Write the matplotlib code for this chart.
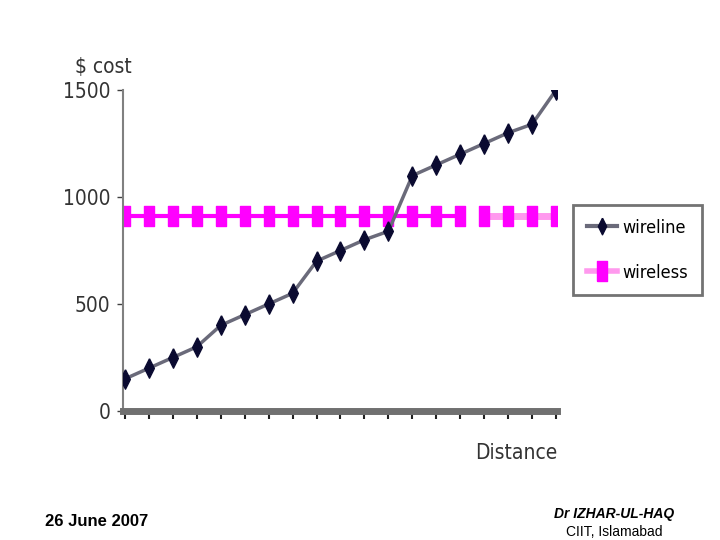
import matplotlib.pyplot as plt
from matplotlib import font_manager

# values
distance = list(range(1, 20))
wireline = [150, 200, 250, 300, 400, 450, 500, 550, 700, 750, 800, 840,
            1100, 1150, 1200, 1250, 1300, 1340, 1500]
wireless = [910] * 19
yticks = [0, 500, 1000, 1500]

plt.rcParams['font.family'] = ['Liberation Sans', 'DejaVu Sans']
# condensed face for the chart texts
cond = font_manager.FontProperties(family='DejaVu Sans', stretch='condensed', size=15)

fig = plt.figure(figsize=(7.2, 5.4), dpi=100)
ax = fig.add_axes([123 / 720, 1 - 411 / 540, 434 / 720, 321 / 540])

diamond = [(0, 1), (0.5, 0), (0, -1), (-0.5, 0), (0, 1)]
rect = [(-0.5, -1), (0.5, -1), (0.5, 1), (-0.5, 1), (-0.5, -1)]

# wireless: main run in magenta, tail drawn lighter as on the slide
split = 15
ax.plot(distance[:split], wireless[:split], color='#ff00ff', lw=3,
        marker=rect, ms=15, mec='#ff00ff', mfc='#ff00ff', zorder=2)
ax.plot(distance[split:], wireless[split:], color='#ff99ee', lw=5,
        marker=rect, ms=15, mec='#ff00ff', mfc='#ff00ff', zorder=2)

ax.plot(distance, wireline, color='#6a6a7a', lw=2.5, zorder=3)
ax.plot(distance, wireline, ls='none', marker=diamond, ms=14,
        mfc='#0a0a30', mec='#0a0a30', zorder=4)

ax.set_xlim(0.92, 19.04)
ax.set_ylim(0, 1500)
ax.set_xticks(distance)
ax.set_xticklabels([])
ax.set_yticks(yticks)
ax.set_yticklabels([str(v) for v in yticks], fontproperties=cond,
                   color='#333333')
ax.tick_params(axis='x', length=6, width=1.5, color='#202020', direction='out')
ax.tick_params(axis='y', length=4, width=1, color='#404040', pad=5)

for s in ('top', 'right'):
    ax.spines[s].set_visible(False)
ax.spines['left'].set_color('#808080')
ax.spines['left'].set_linewidth(1.5)
ax.spines['bottom'].set_color('#707070')
ax.spines['bottom'].set_linewidth(5)

fig.text(75 / 720, 1 - 67 / 540, r'\$ cost', fontproperties=cond,
         color='#333333', va='center')
fig.text(516 / 720, 1 - 453 / 540, 'Distance', fontproperties=cond,
         color='#333333', ha='center', va='center')

h1 = plt.Line2D([], [], color='#6a6a7a', lw=3, marker=diamond, ms=12,
                mfc='#0a0a30', mec='#0a0a30')
h2 = plt.Line2D([], [], color='#ff99ee', lw=4, marker=rect, ms=14,
                mfc='#ff00ff', mec='#ff00ff')
leg_font = font_manager.FontProperties(family='DejaVu Sans', stretch='condensed', size=13)
leg = fig.legend([h1, h2], ['wireline', 'wireless'],
                 loc='upper left', bbox_to_anchor=(573 / 720, 1 - 205 / 540),
                 prop=leg_font, fancybox=False,
                 shadow=False, handlelength=1.7, labelspacing=1.5,
                 borderpad=0.75, handletextpad=0.3, borderaxespad=0)
leg.get_frame().set_edgecolor('#505050')
leg.get_frame().set_linewidth(2)

fig.text(45 / 720, 1 - 521 / 540, '26 June 2007', fontsize=12,
         fontweight='bold', va='center')
fig.text(614 / 720, 1 - 514 / 540, 'Dr IZHAR-UL-HAQ', fontsize=10,
         fontweight='bold', style='italic', ha='center', va='center')
fig.text(614 / 720, 1 - 532 / 540, 'CIIT, Islamabad', fontsize=10,
         ha='center', va='center')

fig.savefig('out.png', dpi=100)
